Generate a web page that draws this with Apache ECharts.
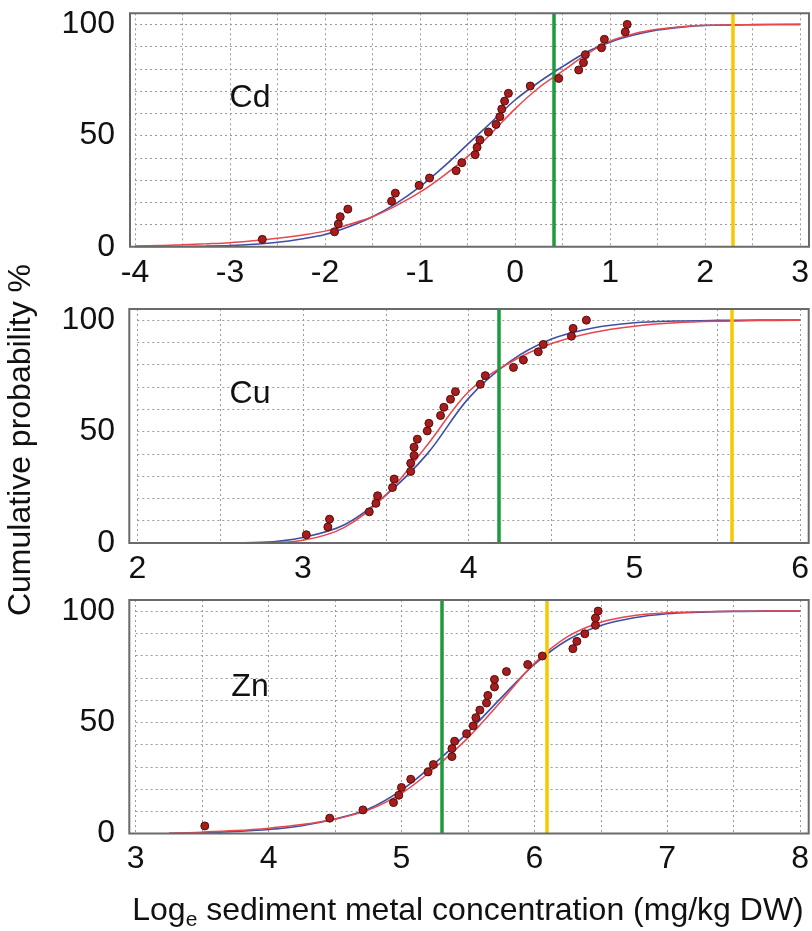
<!DOCTYPE html>
<html><head><meta charset="utf-8">
<script src="https://cdn.jsdelivr.net/npm/echarts@6/dist/echarts.min.js"></script>
<style>html,body{margin:0;padding:0;background:#fff}#c{width:812px;height:931px}</style>
</head><body><div id="c"></div>
<script>
// ---------- data ----------
const metals = ['Cd', 'Cu', 'Zn'];
const xMin = [-4, 2, 3];
const xMax = [3, 6, 8];
const xTickLabelsCd = [-4, -3, -2, -1, 0, 1, 2, 3];
const xTickLabelsCu = [2, 3, 4, 5, 6];
const xTickLabelsZn = [3, 4, 5, 6, 7, 8];
const yTickLabels = [0, 50, 100];
const greenLines = [0.41, 4.18, 5.30];
const yellowLines = [2.29, 5.59, 6.09];

const cdPoints = [[-2.66,3.3],[-1.90,6.7],[-1.86,10.2],[-1.84,13.5],[-1.76,16.9],[-1.30,20.5],[-1.26,24.1],[-1.01,27.6],[-0.90,30.9],[-0.62,34.2],[-0.56,37.8],[-0.42,41.4],[-0.40,44.7],[-0.37,48.0],[-0.28,51.6],[-0.20,55.0],[-0.16,58.5],[-0.14,61.9],[-0.11,65.5],[-0.07,69.0],[0.16,72.3],[0.46,75.7],[0.67,79.5],[0.72,82.8],[0.74,86.4],[0.91,89.5],[0.94,93.3],[1.16,96.6],[1.18,100]];
const cdBlue = [[-4,0],[-3.75,0.05],[-3.5,0.1],[-3.25,0.25],[-3,0.5],[-2.75,1.1],[-2.5,2],[-2.25,3.5],[-2,5.5],[-1.75,9],[-1.5,13.5],[-1.25,19.5],[-1,27],[-0.75,36],[-0.5,46],[-0.25,56],[0,66],[0.25,74],[0.5,81],[0.75,87.5],[1,92],[1.25,95.2],[1.5,97.5],[1.75,98.8],[2,99.5],[2.5,99.9],[3,100]];
const cdRed = [[-4,0.3],[-3.75,0.5],[-3.5,0.9],[-3.25,1.3],[-3,1.8],[-2.75,2.7],[-2.5,3.8],[-2.25,5.2],[-2,7],[-1.75,10],[-1.5,13.5],[-1.25,18.5],[-1,24.5],[-0.75,32],[-0.5,40.5],[-0.25,51],[0,62],[0.25,71.5],[0.5,79],[0.75,86.5],[1,92.5],[1.25,95.8],[1.5,97.8],[1.75,99],[2,99.6],[2.5,99.9],[3,100]];

const cuPoints = [[3.02,3.7],[3.15,7.2],[3.16,10.7],[3.40,14.0],[3.44,17.8],[3.45,21.2],[3.54,24.9],[3.55,28.7],[3.65,32.1],[3.65,35.8],[3.67,39.3],[3.67,43.0],[3.69,46.6],[3.75,50.3],[3.76,53.7],[3.83,57.2],[3.85,60.9],[3.89,64.5],[3.92,67.9],[4.07,71.2],[4.10,75.1],[4.27,78.8],[4.33,82.1],[4.42,85.8],[4.45,89.1],[4.62,92.8],[4.63,96.3],[4.71,100]];
const cuBlue = [[2.5,0],[2.75,0.3],[3,2.5],[3.25,8.2],[3.5,21.5],[3.75,40],[4,65],[4.25,81.5],[4.5,91.5],[4.75,96.5],[5,98.8],[5.25,99.6],[5.5,99.9],[5.75,100],[6,100]];
const cuRed = [[2.5,0],[2.75,0.1],[3,1.2],[3.25,7],[3.5,21.6],[3.75,44],[4,68],[4.25,81],[4.5,89.5],[4.75,94.5],[5,97.3],[5.25,98.8],[5.5,99.5],[5.75,99.8],[6,100]];

const znPoints = [[3.52,3.4],[4.46,6.9],[4.71,10.6],[4.94,13.9],[4.98,17.2],[5.00,20.7],[5.07,24.4],[5.20,27.7],[5.24,31.0],[5.38,34.6],[5.38,38.2],[5.40,41.5],[5.49,44.9],[5.54,48.4],[5.56,52.1],[5.59,55.5],[5.64,58.7],[5.65,62.1],[5.70,65.9],[5.70,69.3],[5.79,72.8],[5.95,76.0],[6.06,79.8],[6.29,83.1],[6.32,86.4],[6.38,89.8],[6.46,93.6],[6.46,96.9],[6.48,100]];
const znBlue = [[3.25,0],[3.5,0.3],[3.75,0.9],[4,1.8],[4.25,3.5],[4.5,6.5],[4.75,11],[5,19.5],[5.25,31.5],[5.5,45.5],[5.75,61],[6,76],[6.25,87],[6.5,93.5],[6.75,97],[7,98.8],[7.25,99.5],[7.5,99.9],[7.75,100],[8,100]];
const znRed = [[3.25,0.1],[3.5,0.6],[3.75,1.3],[4,2.4],[4.25,4],[4.5,6.5],[4.75,10.5],[5,18],[5.25,29.5],[5.5,43],[5.75,59.5],[6,76.5],[6.25,88.5],[6.5,95],[6.75,98],[7,99.3],[7.25,99.7],[7.5,99.9],[7.75,100],[8,100]];

// ---------- layout ----------
const FONT = '"Liberation Sans", Arial, sans-serif';
const grids = [
  {left: 135, right: 7, top: 13.3, height: 233.4},
  {left: 137.3, right: 9.3, top: 309, height: 234},
  {left: 135.7, right: 9.3, top: 600, height: 233.5}
];
const borders = [
  {x: 130, y: 13.3, w: 679, h: 233.4},
  {x: 129.3, y: 309, w: 679.4, h: 234},
  {x: 129.3, y: 600, w: 679.4, h: 233.5}
];
const labelPos = [[250, 98], [250, 394], [250, 687]];
const xTickLists = [xTickLabelsCd, xTickLabelsCu, xTickLabelsZn];
const pointSets = [cdPoints, cuPoints, znPoints];
const blueSets = [cdBlue, cuBlue, znBlue];
const redSets = [cdRed, cuRed, znRed];

const gridLine = {show: true, lineStyle: {color: '#9a9a9a', width: 1, type: [2, 3]}};

const xAxes = [], yAxes = [], series = [], graphics = [];
for (let i = 0; i < 3; i++) {
  xAxes.push({
    gridIndex: i, type: 'value', min: xMin[i], max: xMax[i], interval: 0.5,
    axisLine: {show: false}, axisTick: {show: false},
    axisLabel: {
      formatter: v => xTickLists[i].includes(v) ? String(v) : '',
      fontSize: 32, color: '#111', fontFamily: FONT, margin: 10
    },
    splitLine: gridLine
  });
  yAxes.push({
    gridIndex: i, type: 'value', min: 0, max: 105, interval: 10,
    axisLine: {show: false}, axisTick: {show: false},
    axisLabel: {
      formatter: v => yTickLabels.includes(v) ? String(v) : '',
      fontSize: 32, color: '#111', fontFamily: FONT, margin: grids[i].left - 115
    },
    splitLine: gridLine
  });
  series.push({
    type: 'line', xAxisIndex: i, yAxisIndex: i, data: blueSets[i],
    smooth: 0.35, showSymbol: false, z: 3,
    lineStyle: {color: '#3e4fa6', width: 1.6},
    markLine: {
      silent: true, symbol: ['none', 'none'], label: {show: false},
      animation: false,
      data: [
        {xAxis: greenLines[i], lineStyle: {color: '#1c9a3e', width: 3.5, type: 'solid'}},
        {xAxis: yellowLines[i], lineStyle: {color: '#f6c800', width: 3.5, type: 'solid'}}
      ]
    }
  });
  series.push({
    type: 'line', xAxisIndex: i, yAxisIndex: i, data: redSets[i],
    smooth: 0.35, showSymbol: false, z: 4,
    lineStyle: {color: '#e8474d', width: 1.5}
  });
  series.push({
    type: 'scatter', xAxisIndex: i, yAxisIndex: i, data: pointSets[i],
    symbolSize: 8, z: 5,
    itemStyle: {color: '#a51d1d', borderColor: '#5a0b0b', borderWidth: 1, opacity: 1}
  });
  const b = borders[i];
  graphics.push({
    type: 'rect', shape: {x: b.x, y: b.y, width: b.w, height: b.h}, z: 10, silent: true,
    style: {fill: 'none', stroke: '#6a6a6a', lineWidth: 2}
  });
  graphics.push({
    type: 'text', x: labelPos[i][0], y: labelPos[i][1], z: 10,
    style: {text: metals[i], font: '32px ' + FONT, fill: '#111', align: 'center', verticalAlign: 'middle'}
  });
}
graphics.push({
  type: 'text', x: 21, y: 440, rotation: Math.PI / 2, z: 10,
  style: {text: 'Cumulative probability %', font: '32px ' + FONT, fill: '#111', align: 'center', verticalAlign: 'middle'}
});
graphics.push({
  type: 'text', x: 468, y: 911, z: 10,
  style: {
    text: '{a|Log}{b|e}{a| sediment metal concentration (mg/kg DW)}',
    align: 'center', verticalAlign: 'middle',
    rich: {
      a: {fontSize: 32, fontFamily: FONT, fill: '#111', color: '#111'},
      b: {fontSize: 21, fontFamily: FONT, fill: '#111', color: '#111', padding: [18, 0, 0, 0]}
    }
  }
});

const chart = echarts.init(document.getElementById('c'), null, {renderer: 'canvas'});
chart.setOption({
  animation: false,
  backgroundColor: '#fff',
  grid: grids,
  xAxis: xAxes,
  yAxis: yAxes,
  series: series,
  graphic: graphics
});
</script>
</body></html>
